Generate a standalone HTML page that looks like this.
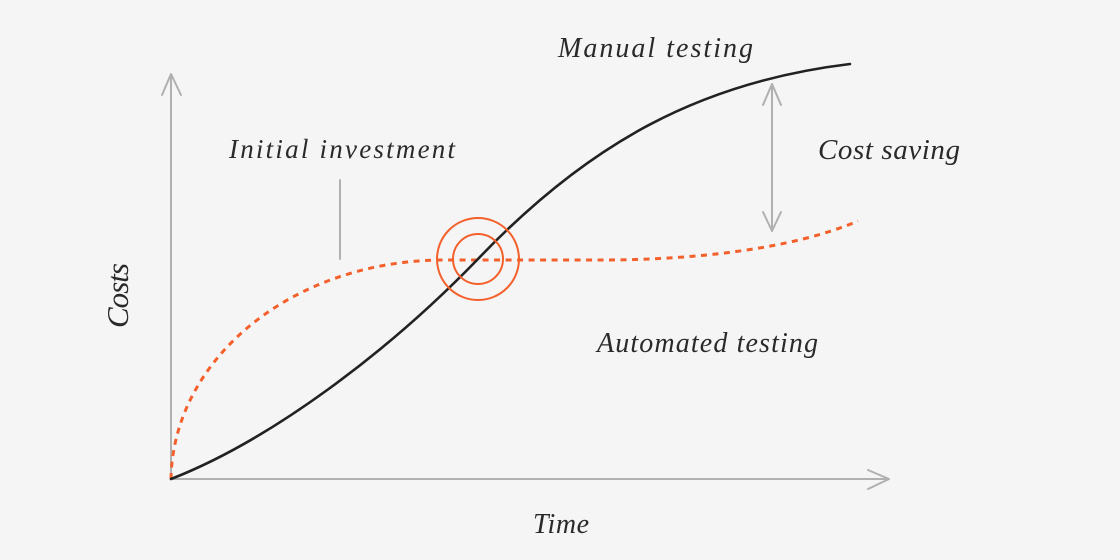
<!DOCTYPE html>
<html>
<head>
<meta charset="utf-8">
<style>
  html, body { margin: 0; padding: 0; background: #f5f5f5; }
  body { width: 1120px; height: 560px; overflow: hidden; }
  svg { display: block; }
  .lbl { font-family: "Liberation Serif", serif; font-style: italic; fill: #2a2a2a; }
</style>
</head>
<body>
<svg width="1120" height="560" viewBox="0 0 1120 560" xmlns="http://www.w3.org/2000/svg">
  <rect x="0" y="0" width="1120" height="560" fill="#f5f5f5"/>

  <!-- Axes -->
  <g stroke="#b0b0b0" stroke-width="2" fill="none" stroke-linecap="round" stroke-linejoin="round">
    <line x1="171" y1="75" x2="171" y2="479"/>
    <polyline points="162,95 171,74 181,95"/>
    <line x1="171" y1="479" x2="888" y2="479"/>
    <polyline points="868,470 889,479 868,489"/>
    <!-- initial investment marker -->
    <line x1="340" y1="180" x2="340" y2="259"/>
    <!-- cost saving arrow -->
    <line x1="772" y1="84" x2="772" y2="231"/>
    <polyline points="763,105 772,84 781,105"/>
    <polyline points="763,212 772,231 781,212"/>
  </g>

  <!-- Automated testing (dashed orange) -->
  <path d="M171,479 C173,360 290,262 440,260 L600,260 C690,260 790,250 858,221"
        fill="none" stroke="#f4602b" stroke-width="3" stroke-dasharray="6 5.5"/>

  <!-- Manual testing (black) -->
  <path d="M171,479 C271,440 388,352 478,259 C588,143.5 700,82 850,64"
        fill="none" stroke="#222222" stroke-width="2.6" stroke-linecap="round"/>

  <!-- Break-even circles -->
  <circle cx="478" cy="259" r="41" fill="none" stroke="#f4602b" stroke-width="2"/>
  <circle cx="478" cy="259" r="25" fill="none" stroke="#f4602b" stroke-width="2"/>

  <!-- Labels -->
  <text class="lbl" x="558" y="57" font-size="28" textLength="195" lengthAdjust="spacing">Manual testing</text>
  <text class="lbl" x="229" y="158" font-size="27" textLength="226" lengthAdjust="spacing">Initial investment</text>
  <text class="lbl" x="818" y="159" font-size="29" textLength="142" lengthAdjust="spacing">Cost saving</text>
  <text class="lbl" x="597" y="352" font-size="28" textLength="221" lengthAdjust="spacing">Automated testing</text>
  <text class="lbl" x="533" y="533" font-size="28" textLength="56" lengthAdjust="spacing">Time</text>
  <text class="lbl" transform="translate(128,328) rotate(-90)" font-size="31" textLength="65" lengthAdjust="spacing">Costs</text>
</svg>
</body>
</html>
